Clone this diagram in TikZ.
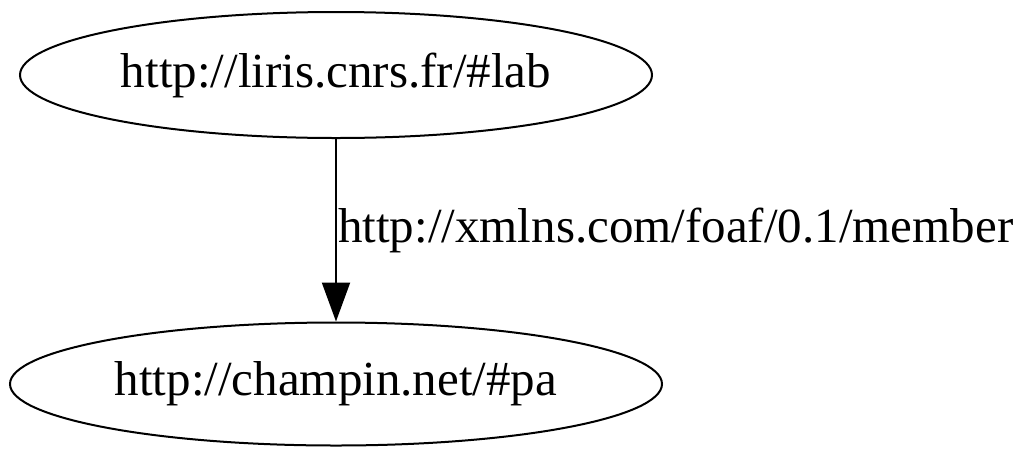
\documentclass[tikz,border=0pt]{standalone}
\usepackage{fontspec}
\setmainfont{Liberation Serif}
\usetikzlibrary{shapes.geometric,arrows.meta}
\begin{document}
\begin{tikzpicture}[x=1pt,y=1pt,
  res/.style={draw=black, line width=2pt, ellipse, inner sep=0pt, font=\fontsize{49}{55}\selectfont},
  edgelbl/.style={inner sep=0pt, font=\fontsize{49}{55}\selectfont},
  rel/.style={line width=2pt, -{Triangle[length=39pt,width=28pt]}}]
\useasboundingbox (0,0) rectangle (1017,-448);
\node[res, minimum width=632pt, minimum height=126pt] (lab) at (336,-75) {http://liris.cnrs.fr/\#lab};
\node[res, minimum width=652pt, minimum height=123pt] (pa) at (336,-384) {http://champin.net/\#pa};
\draw[rel] (lab) -- (pa) node[pos=0.5, coordinate] (mid) {};
\node[edgelbl, anchor=west] (lbl) at (338,-230) {http://xmlns.com/foaf/0.1/member};
\end{tikzpicture}
\end{document}
